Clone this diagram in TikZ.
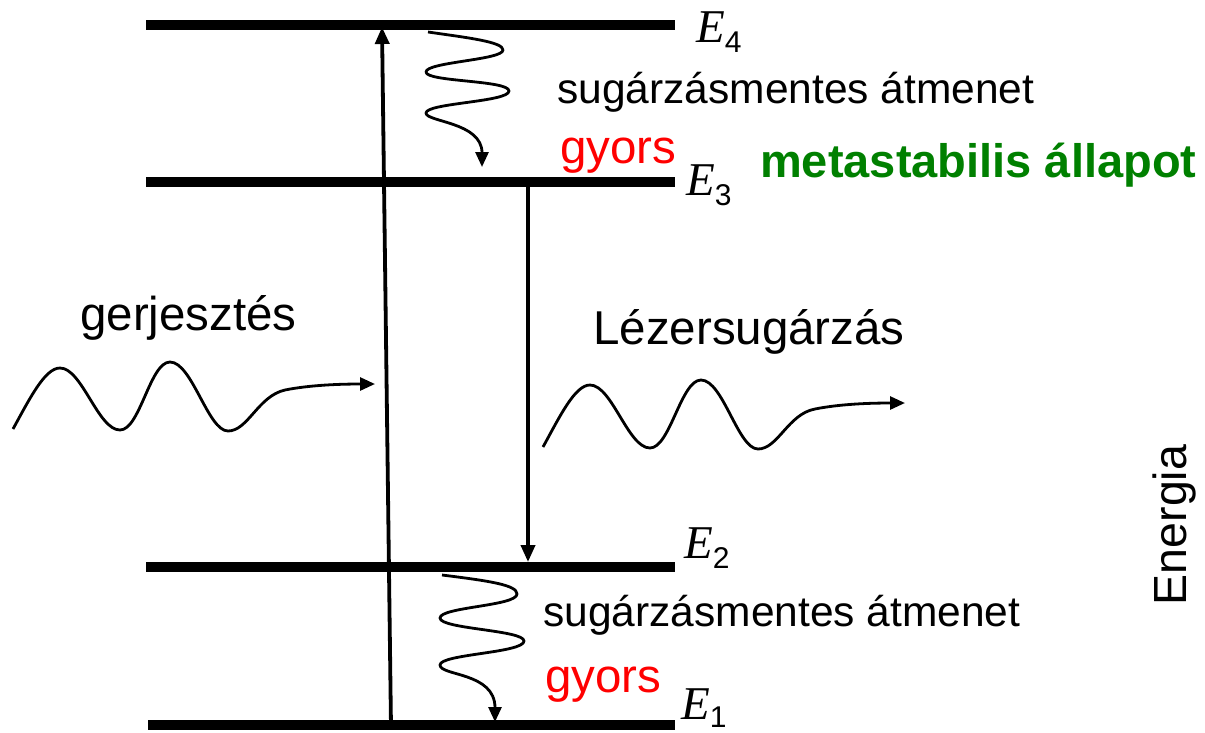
\documentclass[tikz,border=0pt]{standalone}
\usepackage{fontspec}
\setmainfont{Liberation Sans}
\newfontfamily\timesfont{Liberation Serif}
\usetikzlibrary{arrows.meta}
\definecolor{gred}{RGB}{255,0,0}
\definecolor{ggreen}{RGB}{0,128,0}
\newcommand{\Elab}[2][-10.5pt]{{\fontsize{47}{47}\selectfont\timesfont\itshape E}\raisebox{#1}{\fontsize{30}{30}\selectfont #2}}
\begin{document}
\begin{tikzpicture}[x=1pt,y=-1pt,
  levelline/.style={line width=10pt},
  vertarrow/.style={line width=3.8pt,-{Triangle[width=14pt,length=17pt]}},
  wavearrow/.style={line width=2.8pt,line join=round,-{Triangle[width=13pt,length=15pt]}},
  lbl/.style={inner sep=0pt,anchor=base west,font=\fontsize{47.5}{50}\selectfont},
  smalllbl/.style={inner sep=0pt,anchor=base west,font=\fontsize{42.5}{45}\selectfont},
  elbl/.style={inner sep=0pt,anchor=base west}
]
\useasboundingbox (0,0) rectangle (1205,732);

% energy levels
\coordinate (E4a) at (146,25);  \coordinate (E4b) at (675,25);
\coordinate (E3a) at (146,182); \coordinate (E3b) at (675,182);
\coordinate (E2a) at (146,567); \coordinate (E2b) at (675,567);
\coordinate (E1a) at (148,725); \coordinate (E1b) at (675,725);
\draw[levelline] (E4a) -- (E4b);
\draw[levelline] (E3a) -- (E3b);
\draw[levelline] (E2a) -- (E2b);
\draw[levelline] (E1a) -- (E1b);

% level labels
\node[elbl] (lE4) at (696,42) {\Elab{4}};
\node[elbl] (lE3) at (686,195) {\Elab{3}};
\node[elbl] (lE2) at (684,558) {\Elab{2}};
\node[elbl] (lE1) at (681,719) {\Elab[-8pt]{1}};

% excitation arrow
\coordinate (exA) at (391,727);
\coordinate (exB) at (382,27);
\draw[vertarrow] (exA) -- (exB);

% laser arrow
\coordinate (lzA) at (528,187);
\coordinate (lzB) at (528,562);
\draw[vertarrow] (lzA) -- (lzB);

% top nonradiative wavy arrow
\coordinate (w1s) at (428,32);
\coordinate (w1e) at (482,167);
\draw[wavearrow] (w1s) .. controls (470,38) and (503,42) .. (503,50)
  .. controls (503,60) and (426,62) .. (426,72)
  .. controls (426,82) and (509,80) .. (509,91)
  .. controls (509,102) and (426,103) .. (426,113)
  .. controls (426,122) and (482,122) .. (w1e);

% bottom nonradiative wavy arrow
\coordinate (w2s) at (442,575);
\coordinate (w2e) at (495,722);
\draw[wavearrow] (w2s) .. controls (490,581) and (517,585) .. (517,594)
  .. controls (517,606) and (440,607) .. (440,618)
  .. controls (440,629) and (524,630) .. (524,641)
  .. controls (524,653) and (440,654) .. (440,665)
  .. controls (440,676) and (495,672) .. (w2e);

% excitation wave
\coordinate (ws1) at (13,429);
\coordinate (we1) at (375,384);
\draw[wavearrow] (ws1) .. controls (30,398) and (45,368) .. (60,368)
  .. controls (82,368) and (98,430) .. (120,430)
  .. controls (140,430) and (150,362) .. (170,362)
  .. controls (192,362) and (208,431) .. (228,431)
  .. controls (248,431) and (258,396) .. (285,390)
  .. controls (310,385) and (340,384) .. (we1);

% laser wave
\coordinate (ws2) at (543,447);
\coordinate (we2) at (905,403);
\draw[wavearrow] (ws2) .. controls (560,416) and (575,385) .. (590,385)
  .. controls (612,385) and (628,448) .. (650,448)
  .. controls (670,448) and (681,380) .. (701,380)
  .. controls (723,380) and (738,449) .. (758,449)
  .. controls (778,449) and (788,414) .. (815,409)
  .. controls (840,404) and (870,403) .. (we2);

% texts
\node[smalllbl] (t1) at (557,103) {sugárzásmentes átmenet};
\node[lbl,text=gred] (t2) at (560,163) {gyors};
\node[lbl,text=ggreen,font=\fontsize{47}{50}\selectfont\bfseries] (t3) at (760,177) {metastabilis állapot};
\node[lbl] (t4) at (80,330) {gerjesztés};
\node[lbl] (t5) at (593,344) {Lézersugárzás};
\node[smalllbl] (t6) at (543,626) {sugárzásmentes átmenet};
\node[lbl,text=gred] (t7) at (545,692) {gyors};
\node[inner sep=0pt,anchor=base,rotate=90,font=\fontsize{46.5}{50}\selectfont] (t8) at (1186,525) {Energia};
\end{tikzpicture}
\end{document}
